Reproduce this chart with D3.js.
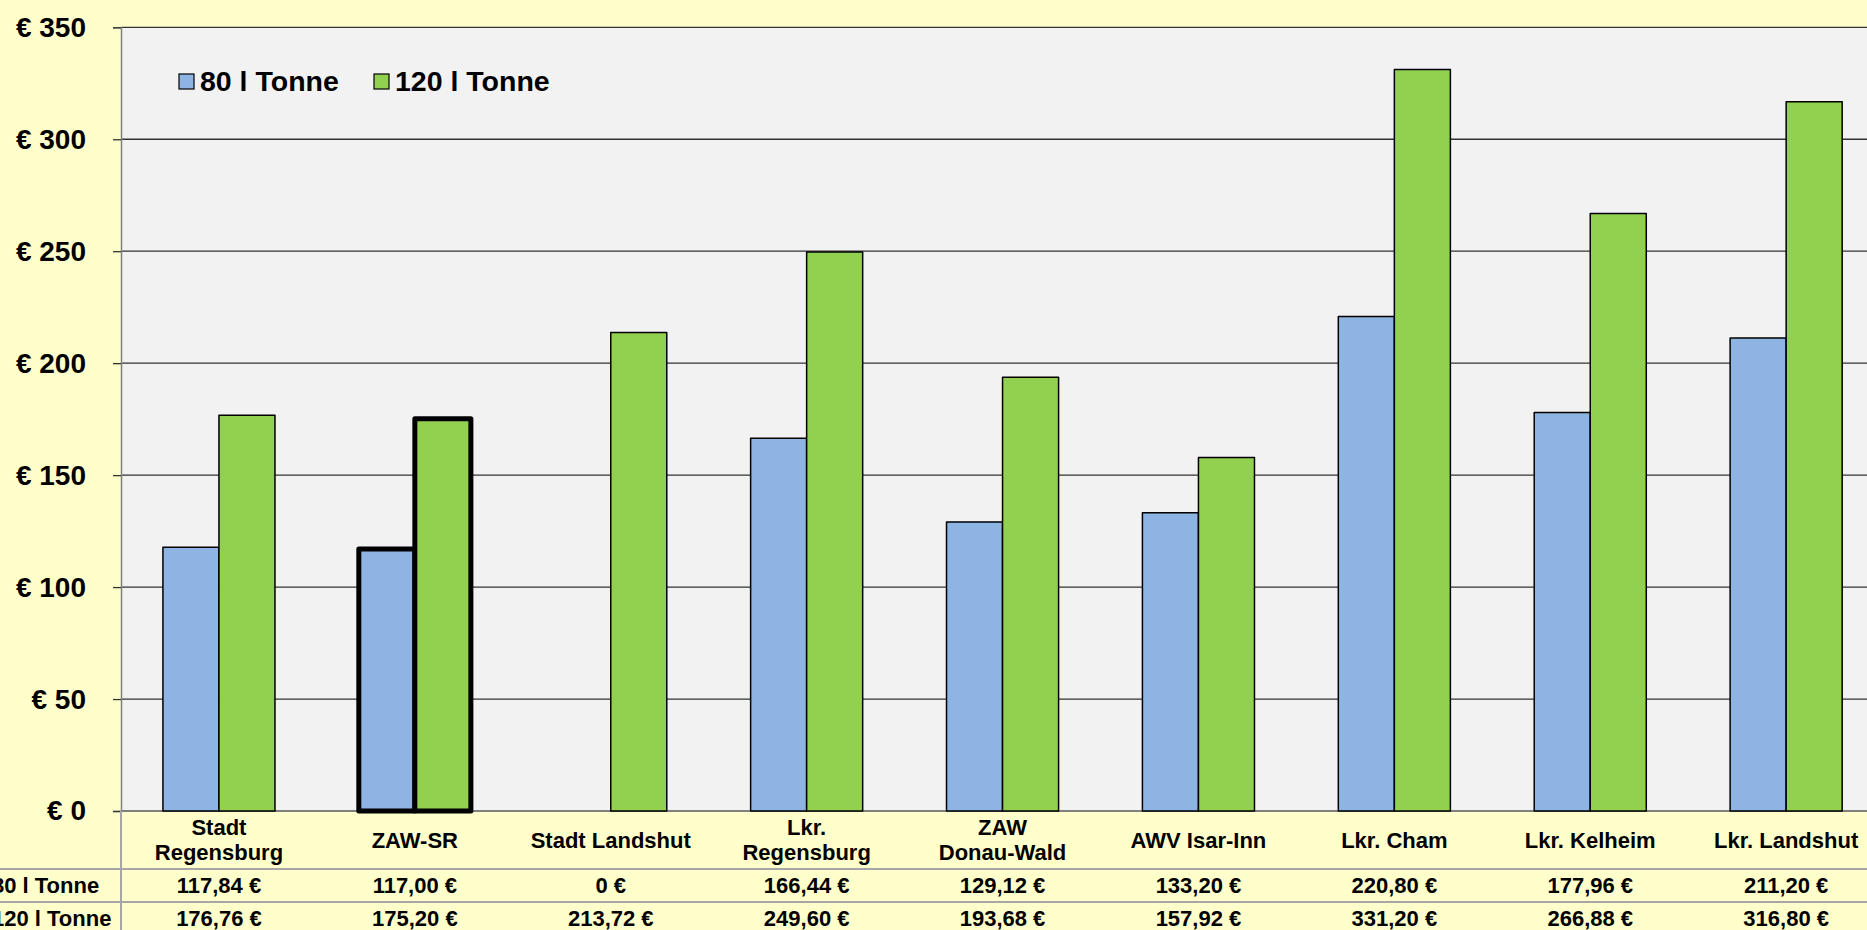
<!DOCTYPE html>
<html>
<head>
<meta charset="utf-8">
<script src="https://cdn.jsdelivr.net/npm/d3@7"></script>
<style>
  html, body { margin: 0; padding: 0; overflow: hidden; background: #FFFFCC; }
  svg { display: block; font-family: "Liberation Sans", Arial, sans-serif; font-weight: bold; }
</style>
</head>
<body>
<div id="chart"></div>
<script>
// categories (line breaks as in the chart's table header)
const categories = ['Stadt Regensburg', 'ZAW-SR', 'Stadt Landshut', 'Lkr. Regensburg',
  'ZAW Donau-Wald', 'AWV Isar-Inn', 'Lkr. Cham', 'Lkr. Kelheim', 'Lkr. Landshut']
const categoryLines = [['Stadt', 'Regensburg'], ['ZAW-SR'], ['Stadt Landshut'], ['Lkr.', 'Regensburg'],
  ['ZAW', 'Donau-Wald'], ['AWV Isar-Inn'], ['Lkr. Cham'], ['Lkr. Kelheim'], ['Lkr. Landshut']]
const seriesNames = ['80 l Tonne', '120 l Tonne']
const values80 = [117.84, 117.00, 0, 166.44, 129.12, 133.20, 220.80, 177.96, 211.20]
const values120 = [176.76, 175.20, 213.72, 249.60, 193.68, 157.92, 331.20, 266.88, 316.80]
const yTicks = [0, 50, 100, 150, 200, 250, 300, 350]
const highlighted = 'ZAW-SR'

const colors = ['#8EB4E3', '#92D050']
const W = 1867, H = 930
const plotLeft = 121, plotTop = 27.3, plotBottom = 811
const step = 195.9
const plotRight = plotLeft + step * categories.length   // runs past the window edge, like the reference

const svg = d3.select('#chart').append('svg')
  .attr('width', W)
  .attr('height', H)

svg.append('rect')
  .attr('width', W).attr('height', H)
  .attr('fill', '#FFFFCC')

// plot area
svg.append('rect')
  .attr('x', plotLeft).attr('y', plotTop)
  .attr('width', plotRight - plotLeft).attr('height', plotBottom - plotTop)
  .attr('fill', '#F2F2F2')

const x = d3.scaleBand()
  .domain(categories)
  .range([plotLeft, plotRight])
  .paddingInner(0.428)
  .paddingOuter(0.214)

const x1 = d3.scaleBand()
  .domain(seriesNames)
  .range([0, x.bandwidth()])

const y = d3.scaleLinear()
  .domain([0, 350])
  .range([plotBottom, plotTop])

// gridlines
svg.append('g')
  .selectAll('line')
  .data(yTicks.filter(t => t > 0))
  .join('line')
  .attr('x1', plotLeft).attr('x2', plotRight)
  .attr('y1', d => y(d)).attr('y2', d => y(d))
  .attr('stroke', '#333').attr('stroke-width', 1.3)

// y axis
const yAxis = svg.append('g')
  .attr('transform', `translate(${plotLeft},0)`)
  .call(d3.axisLeft(y).tickValues(yTicks).tickSize(8).tickPadding(27)
    .tickFormat(d => '€ ' + d))
yAxis.select('.domain').attr('stroke', '#808080').attr('stroke-width', 1.5)
yAxis.selectAll('.tick line').attr('stroke', '#333').attr('stroke-width', 1.3)
yAxis.selectAll('.tick text')
  .attr('fill', '#000')
  .style('font-size', '28px')
  .style('font-family', '"Liberation Sans", Arial, sans-serif')
  .style('font-weight', 'bold')

// bars
const rows = categories.map((c, i) => ({ cat: c, vals: [values80[i], values120[i]] }))

// baseline of the axis
svg.append('line')
  .attr('x1', plotLeft).attr('x2', plotRight)
  .attr('y1', plotBottom).attr('y2', plotBottom)
  .attr('stroke', '#808080').attr('stroke-width', 2)

const groups = svg.append('g')
  .selectAll('g')
  .data(rows)
  .join('g')
  .attr('transform', d => `translate(${x(d.cat)},0)`)

groups.selectAll('rect')
  .data(d => d.vals.map((v, j) => ({ cat: d.cat, s: seriesNames[j], j: j, v: v })).filter(e => e.v > 0))
  .join('rect')
  .attr('x', d => x1(d.s))
  .attr('y', d => y(d.v))
  .attr('width', x1.bandwidth())
  .attr('height', d => y(0) - y(d.v))
  .attr('fill', d => colors[d.j])
  .attr('stroke', '#000')
  .attr('stroke-linejoin', 'round')
  .attr('stroke-width', d => d.cat == highlighted ? 5 : 1.5)

// legend
const legend = svg.append('g')
seriesNames.forEach((s, j) => {
  let lx = [179, 374][j]
  legend.append('rect')
    .attr('x', lx).attr('y', 74)
    .attr('width', 15).attr('height', 15)
    .attr('fill', colors[j])
    .attr('stroke', '#000').attr('stroke-width', 1.2)
  legend.append('text')
    .attr('x', lx + 21).attr('y', 90.5)
    .style('font-size', '28.5px')
    .text(s)
})

// data table below the chart
const rowLines = [869, 902]
svg.append('g')
  .selectAll('line')
  .data(rowLines)
  .join('line')
  .attr('x1', 0).attr('x2', W)
  .attr('y1', d => d).attr('y2', d => d)
  .attr('stroke', '#A6A6A6').attr('stroke-width', 2)

svg.append('line')
  .attr('x1', plotLeft).attr('x2', plotLeft)
  .attr('y1', plotBottom).attr('y2', H)
  .attr('stroke', '#A6A6A6').attr('stroke-width', 2)

// category labels
const catText = svg.append('g')
  .selectAll('text')
  .data(categories)
  .join('text')
  .attr('text-anchor', 'middle')
  .style('font-size', '22px')
catText.each(function (d, i) {
  let lines = categoryLines[i]
  let cx = x(d) + x.bandwidth() / 2
  let base = lines.length == 1 ? [848] : [835, 860]
  d3.select(this).selectAll('tspan')
    .data(lines)
    .join('tspan')
    .attr('x', cx)
    .attr('y', (l, k) => base[k])
    .text(l => l)
})

// value rows (row titles are cut by the left edge, as in the reference)
function fmt(v) {
  return v == 0 ? '0 €' : v.toFixed(2).replace('.', ',') + ' €'
}
const tableRows = [values80, values120]
const rowBase = [893, 926]
tableRows.forEach((vals, r) => {
  svg.append('text')
    .attr('x', -8).attr('y', rowBase[r])
    .style('font-size', '22px')
    .text(seriesNames[r])
  svg.append('g')
    .selectAll('text')
    .data(vals)
    .join('text')
    .attr('x', (v, i) => x(categories[i]) + x.bandwidth() / 2)
    .attr('y', rowBase[r])
    .attr('text-anchor', 'middle')
    .style('font-size', '22px')
    .text(v => fmt(v))
})
</script>
</body>
</html>
